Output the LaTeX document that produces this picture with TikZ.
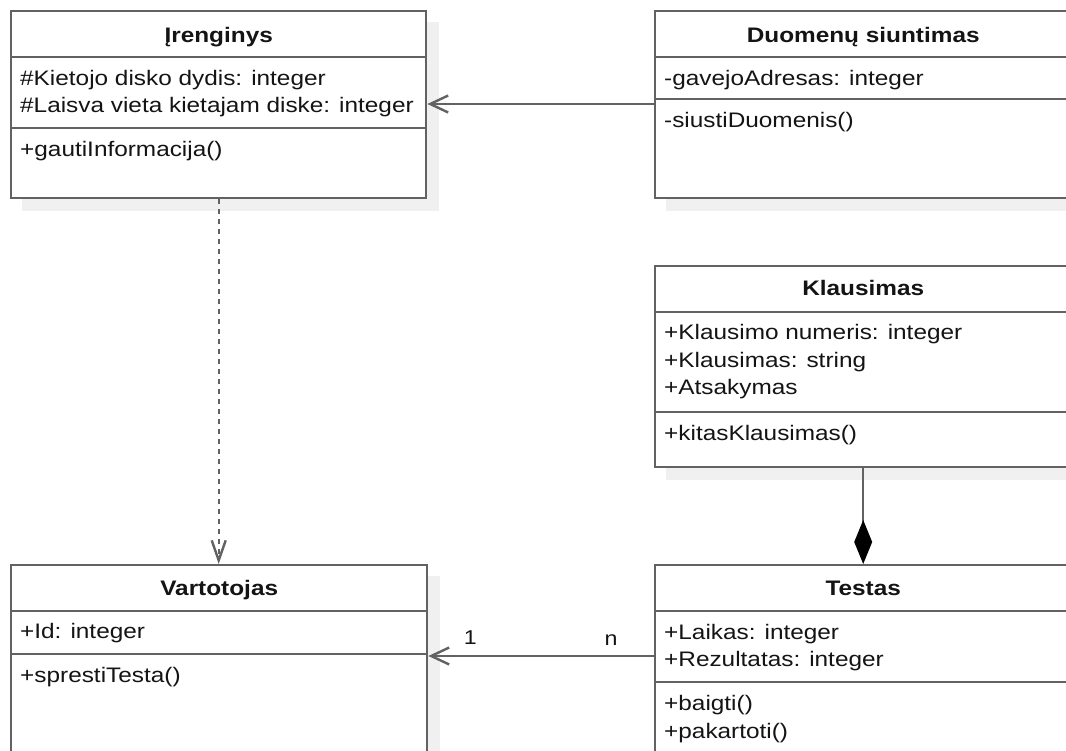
\documentclass[tikz,border=0pt]{standalone}
\usepackage{fontspec}
\setmainfont{Liberation Sans}[FakeStretch=1.16]
\usetikzlibrary{arrows.meta,calc,backgrounds}

\definecolor{umlline}{HTML}{626262}
\definecolor{umltext}{HTML}{141414}
\definecolor{umlshadow}{HTML}{F0F0F0}

\tikzset{
  classbox/.style={rectangle, draw=umlline, line width=2.4pt, fill=white,
    inner sep=0pt, anchor=north west},
  divider/.style={draw=umlline, line width=2.4pt},
  classtitle/.style={anchor=base, inner sep=0pt, text=umltext,
    font=\fontsize{21}{25}\selectfont\bfseries},
  member/.style={anchor=base west, inner sep=0pt, text=umltext,
    font=\fontsize{21}{25}\selectfont},
  mult/.style={anchor=base, inner sep=0pt, text=umltext,
    font=\fontsize{20}{24}\selectfont},
  assoc/.style={draw=umlline, line width=2.4pt,
    -{Straight Barb[length=18pt,width=17pt]}},
  depend/.style={draw=umlline, line width=2.4pt, dash pattern=on 5pt off 5pt,
    -{Straight Barb[length=20pt,width=14pt]}},
  compose/.style={draw=umlline, line width=2.4pt,
    {Diamond[length=44pt,width=18pt,fill=black,color=black]}-},
}

\begin{document}
\begin{tikzpicture}[x=1pt,y=-1pt]
\useasboundingbox (0,0) rectangle (1066,751);
\clip (0,0) rectangle (1066,751);

% class boxes
\node[classbox, minimum width=415pt, minimum height=187pt] (iren)  at (10,10)  {};
\node[classbox, minimum width=416pt, minimum height=187pt] (duom)  at (654,10) {};
\node[classbox, minimum width=416pt, minimum height=201pt] (klaus) at (654,265) {};
\node[classbox, minimum width=416pt, minimum height=200pt] (vart)  at (10,564) {};
\node[classbox, minimum width=416pt, minimum height=200pt] (test)  at (654,564) {};

% page background and drop shadows
\begin{pgfonlayer}{background}
  \fill[white] (0,0) rectangle (1066,751);
  \foreach \b in {iren,duom,klaus,vart,test}
    \fill[umlshadow] ($(\b.north west)+(12,12)$) rectangle ($(\b.south east)+(12,12)$);
\end{pgfonlayer}

% compartments
\draw[divider] ($(iren.north west)+(0,47)$)  -- ($(iren.north east)+(0,47)$);
\draw[divider] ($(iren.north west)+(0,118)$) -- ($(iren.north east)+(0,118)$);
\draw[divider] ($(duom.north west)+(0,47)$)  -- ($(duom.north east)+(0,47)$);
\draw[divider] ($(duom.north west)+(0,89)$)  -- ($(duom.north east)+(0,89)$);
\draw[divider] ($(klaus.north west)+(0,47)$) -- ($(klaus.north east)+(0,47)$);
\draw[divider] ($(klaus.north west)+(0,147)$) -- ($(klaus.north east)+(0,147)$);
\draw[divider] ($(vart.north west)+(0,47)$)  -- ($(vart.north east)+(0,47)$);
\draw[divider] ($(vart.north west)+(0,90)$)  -- ($(vart.north east)+(0,90)$);
\draw[divider] ($(test.north west)+(0,47)$)  -- ($(test.north east)+(0,47)$);
\draw[divider] ($(test.north west)+(0,118)$) -- ($(test.north east)+(0,118)$);

% Irenginys
\node[classtitle] (irenT) at ($(iren.north)+(0,33)$) {Įrenginys};
\node[member] (irenA1) at ($(iren.north west)+(10,76)$)  {\#Kietojo disko dydis: integer};
\node[member] (irenA2) at ($(iren.north west)+(10,103)$) {\#Laisva vieta kietajam diske: integer};
\node[member] (irenO1) at ($(iren.north west)+(10,147)$) {+gautiInformacija()};

% Duomenu siuntimas
\node[classtitle] (duomT) at ($(duom.north)+(0,33)$) {Duomenų siuntimas};
\node[member] (duomA1) at ($(duom.north west)+(10,76)$)  {-gavejoAdresas: integer};
\node[member] (duomO1) at ($(duom.north west)+(10,118)$) {-siustiDuomenis()};

% Klausimas
\node[classtitle] (klausT) at ($(klaus.north)+(0,31)$) {Klausimas};
\node[member] (klausA1) at ($(klaus.north west)+(10,75)$)  {+Klausimo numeris: integer};
\node[member] (klausA2) at ($(klaus.north west)+(10,103)$) {+Klausimas: string};
\node[member] (klausA3) at ($(klaus.north west)+(10,130)$) {+Atsakymas};
\node[member] (klausO1) at ($(klaus.north west)+(10,175)$) {+kitasKlausimas()};

% Vartotojas
\node[classtitle] (vartT) at ($(vart.north)+(0,31)$) {Vartotojas};
\node[member] (vartA1) at ($(vart.north west)+(10,74)$)  {+Id: integer};
\node[member] (vartO1) at ($(vart.north west)+(10,118)$) {+sprestiTesta()};

% Testas
\node[classtitle] (testT) at ($(test.north)+(0,31)$) {Testas};
\node[member] (testA1) at ($(test.north west)+(10,75)$)  {+Laikas: integer};
\node[member] (testA2) at ($(test.north west)+(10,102)$) {+Rezultatas: integer};
\node[member] (testO1) at ($(test.north west)+(10,146)$) {+baigti()};
\node[member] (testO2) at ($(test.north west)+(10,174)$) {+pakartoti()};

% relations
\draw[assoc] ($(duom.north west)+(0,94)$) -- ($(iren.north east)+(0,94)$);
\draw[depend] (iren.south) -- (iren.south |- vart.north);
\draw[compose] (test.north) -- (klaus.south);
\draw[assoc] ($(test.north west)+(0,92)$) -- ($(vart.north east)+(0,92)$);
\node[mult] (multOne) at ($(vart.north east)+(42,80)$) {1};
\node[mult] (multN)   at ($(test.north west)+(-43,81)$) {n};
\end{tikzpicture}
\end{document}
